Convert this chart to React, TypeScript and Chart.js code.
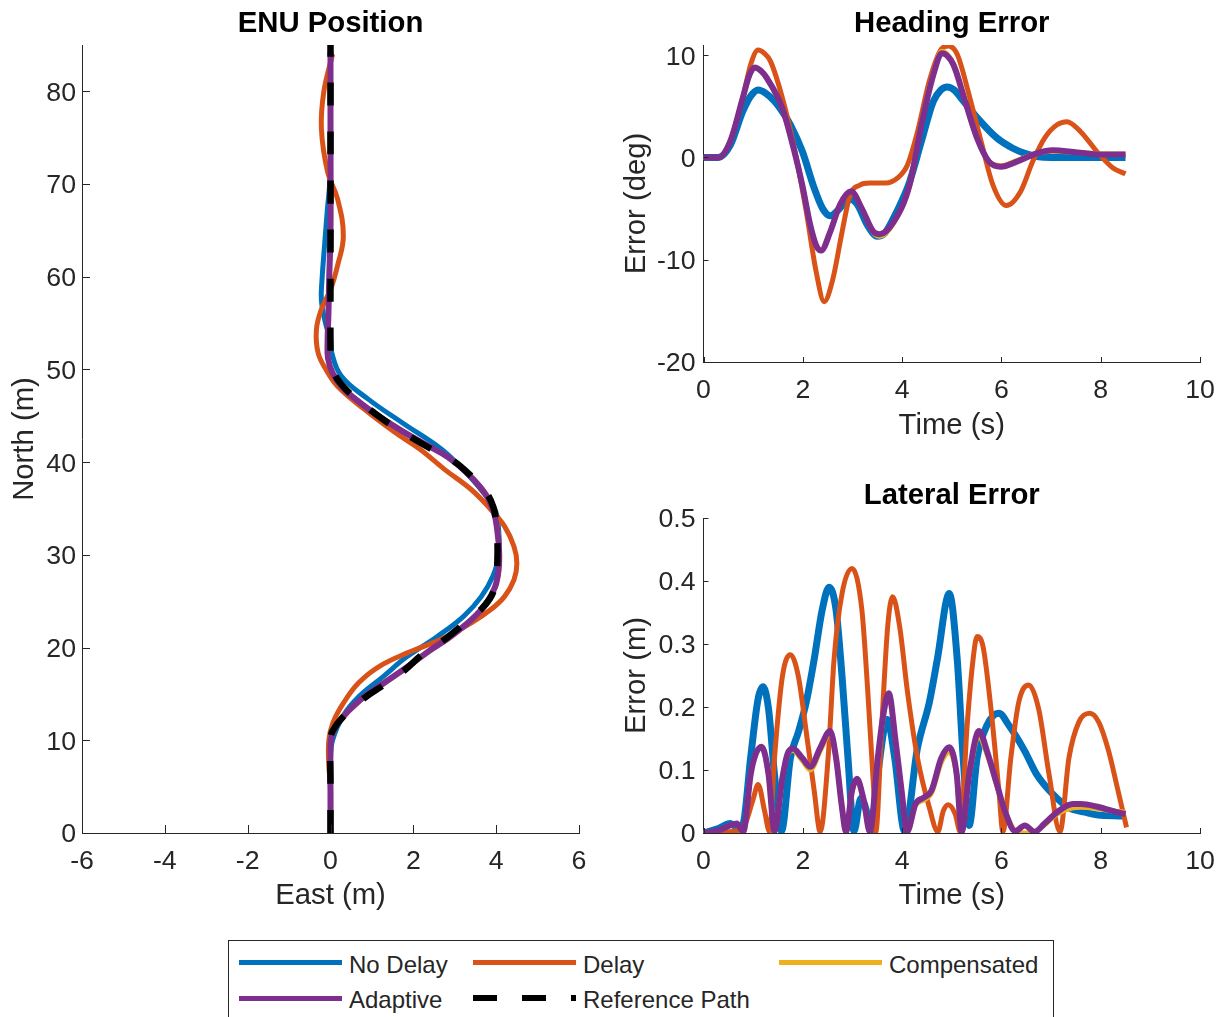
import React, { useEffect, useRef } from 'react';
import { Chart, registerables } from 'chart.js';

Chart.register(...registerables);

const FONT = '"Liberation Sans", Arial, Helvetica, sans-serif';
const AXIS_COLOR = '#262626';
const PAGE_W = 1222;
const PAGE_H = 1017;
const TICK_SIZE = 26.7;
const LABEL_SIZE = 29.3;
const TITLE_SIZE = 29.3;

const C_NODELAY = '#0072BD';
const C_DELAY = '#D95319';
const C_COMP = '#EDB120';
const C_ADAPT = '#7E2F8E';
const C_REF = '#000000';

type Pt = [number, number];

// ---------- ENU Position (East, North) ----------
const enuReference: Pt[] = [
  [0, 0], [0, 5], [0, 10], [0.05, 11], [0.3, 12.5], [0.8, 14.5], [1.3, 16], [1.8, 17.6], [2.2, 19.2],
  [2.7, 20.7], [3.2, 22.5], [3.65, 24.2], [3.9, 25.7], [4.0, 27.5], [4.03, 29.5], [4.03, 31.5],
  [4.0, 33.5], [3.93, 35.2], [3.75, 36.8], [3.4, 38.5], [2.95, 40.2], [2.4, 41.5], [1.9, 42.8],
  [1.4, 44.2], [1.0, 45.5], [0.6, 46.9], [0.3, 48.2], [0.1, 49.5], [0.02, 51], [0, 52.5],
  [0, 60], [0, 70], [0, 85],
];
const enuNoDelay: Pt[] = [
  [0, 0], [0, 4], [0, 8], [0.05, 10], [0.3, 12.6], [0.68, 14.7], [1.28, 16.9], [1.84, 19], [2.58, 21.2],
  [3.22, 23.4], [3.64, 25.5], [3.92, 27.7], [4.06, 29.9], [4.06, 32.7], [3.97, 34.9], [3.64, 37],
  [3.2, 39.2], [2.68, 41.4], [1.75, 44.2], [0.91, 46.8], [0.26, 49.3], [0.03, 51.8], [0, 53.2],
  [-0.12, 55], [-0.22, 57.5], [-0.2, 60], [-0.15, 63], [-0.08, 67], [-0.02, 70], [0, 72], [0, 78], [0, 84],
];
const enuDelay: Pt[] = [
  [0, 0], [0, 5], [-0.04, 7.2], [-0.04, 10], [0.06, 11.9], [0.31, 14], [0.68, 16.2], [1.19, 18],
  [1.84, 19.4], [2.67, 20.9], [3.41, 22.7], [3.87, 24.1], [4.2, 25.5], [4.43, 27.3], [4.5, 29.1],
  [4.43, 30.9], [4.2, 33.1], [3.87, 34.9], [3.41, 37], [2.76, 39.2], [2.16, 41.4], [1.56, 43.2],
  [0.82, 45.7], [0.17, 48.2], [-0.11, 50], [-0.3, 51.8], [-0.34, 54.3], [-0.22, 56.5], [0, 58.6],
  [0.17, 61.2], [0.31, 64.4], [0.17, 68.4], [-0.07, 71.3], [-0.22, 76], [-0.16, 80], [0.05, 84],
];
const enuCompensated: Pt[] = [
  [0, 0], [0, 4.5], [0, 9], [0.03, 10.5], [0.21, 12], [0.72, 14.3], [1.32, 16.2], [1.87, 17.9],
  [2.42, 19.7], [2.92, 21.2], [3.41, 23], [3.76, 24.7], [3.98, 26.5], [4.07, 28.5], [4.08, 30.5],
  [4.04, 32.5], [3.96, 34.5], [3.76, 36.5], [3.36, 38.6], [2.86, 40.5], [2.31, 41.9], [1.76, 43.3],
  [1.26, 44.7], [0.76, 46.3], [0.31, 48], [0.05, 49.6], [-0.06, 51.2], [-0.07, 53], [-0.05, 56],
  [-0.03, 60], [0, 65], [0, 75], [0, 84.2],
];
const enuAdaptive: Pt[] = [
  [0, 0], [0, 4.5], [0, 9], [0.03, 10.5], [0.2, 12], [0.7, 14.3], [1.3, 16.2], [1.85, 17.9],
  [2.4, 19.7], [2.9, 21.2], [3.4, 23], [3.75, 24.7], [3.97, 26.5], [4.06, 28.5], [4.07, 30.5],
  [4.03, 32.5], [3.95, 34.5], [3.75, 36.5], [3.35, 38.6], [2.85, 40.5], [2.3, 41.9], [1.75, 43.3],
  [1.25, 44.7], [0.75, 46.3], [0.3, 48], [0.05, 49.6], [-0.06, 51.2], [-0.07, 53], [-0.05, 56],
  [-0.03, 60], [0, 65], [0, 75], [0, 84.2],
];

// ---------- Heading Error (time s, deg) ----------
const headingNoDelay: Pt[] = [
  [0, 0], [0.3, 0], [0.54, 1.2], [0.79, 4.5], [0.95, 6.0], [1.1, 6.6], [1.25, 6.3], [1.43, 5.5],
  [1.6, 4.4], [1.75, 3.2], [1.99, 0.6], [2.23, -3.0], [2.4, -5.0], [2.55, -5.7], [2.7, -5.2],
  [2.85, -4.4], [2.97, -4.1], [3.1, -4.6], [3.3, -6.6], [3.5, -7.7], [3.65, -7.4], [3.83, -5.9],
  [4.0, -4.2], [4.15, -2.4], [4.39, 1.6], [4.63, 5.5], [4.78, 6.6], [4.91, 6.9], [5.05, 6.6],
  [5.19, 5.8], [5.51, 3.9], [5.91, 1.9], [6.23, 0.9], [6.47, 0.4], [6.71, 0.1], [7.0, 0], [8.5, 0],
];
const headingDelay: Pt[] = [
  [0, 0], [0.3, 0], [0.54, 1.6], [0.79, 5.8], [0.95, 9.1], [1.1, 10.5], [1.22, 10.2], [1.35, 9.4],
  [1.59, 5.8], [1.83, 0.9], [2.07, -5.3], [2.27, -11.2], [2.43, -14.1], [2.6, -12.0], [2.79, -7.3],
  [2.95, -3.7], [3.15, -2.7], [3.35, -2.5], [3.67, -2.5], [3.91, -2.0], [4.11, -0.7], [4.31, 2.5],
  [4.55, 7.5], [4.79, 10.6], [4.93, 10.9], [5.11, 10.1], [5.35, 6.1], [5.59, 1.6], [5.83, -2.7],
  [6.1, -4.7], [6.39, -3.3], [6.63, -0.4], [6.87, 1.9], [7.12, 3.2], [7.32, 3.5], [7.6, 2.5],
  [7.92, 0.6], [8.24, -1.0], [8.5, -1.6],
];
const headingCompensated: Pt[] = [
  [0, 0], [0.3, 0], [0.54, 1.6], [0.79, 5.8], [0.92, 8.0], [1.03, 8.8], [1.15, 8.5], [1.27, 7.8],
  [1.59, 4.8], [1.83, 0.6], [1.99, -2.7], [2.15, -6.6], [2.27, -8.6], [2.37, -9.1], [2.55, -7.3],
  [2.75, -4.6], [2.97, -3.3], [3.19, -5.0], [3.43, -7.4], [3.55, -7.7], [3.83, -6.4], [4.15, -2.7],
  [4.39, 3.3], [4.63, 8.3], [4.8, 10.4], [5.03, 9.2], [5.27, 5.5], [5.51, 1.9], [5.75, -0.4],
  [5.99, -0.8], [6.31, -0.3], [6.71, 0.4], [7.03, 0.6], [7.52, 0.5], [8.0, 0.35], [8.5, 0.35],
];
const headingAdaptive: Pt[] = [
  [0, 0], [0.3, 0], [0.54, 1.6], [0.79, 5.8], [0.92, 8.0], [1.03, 8.8], [1.15, 8.5], [1.27, 7.8],
  [1.59, 4.8], [1.83, 0.6], [1.99, -2.7], [2.15, -6.6], [2.27, -8.6], [2.37, -9.1], [2.55, -7.3],
  [2.75, -4.6], [2.97, -3.3], [3.19, -5.0], [3.43, -7.3], [3.55, -7.5], [3.83, -6.3], [4.15, -2.7],
  [4.39, 3.2], [4.63, 8.1], [4.8, 10.2], [5.03, 9.1], [5.27, 5.5], [5.51, 1.9], [5.75, -0.4],
  [5.99, -0.9], [6.31, -0.4], [6.71, 0.4], [7.03, 0.7], [7.52, 0.5], [8.0, 0.3], [8.5, 0.3],
];

// ---------- Lateral Error (time s, m) ----------
const lateralNoDelay: Pt[] = [
  [0, 0], [0.3, 0.007], [0.54, 0.015], [0.7, 0.008], [0.8, 0.015], [0.95, 0.12], [1.1, 0.213],
  [1.2, 0.232], [1.31, 0.197], [1.43, 0.093], [1.57, 0.003], [1.75, 0.119], [1.91, 0.16],
  [2.07, 0.208], [2.23, 0.276], [2.39, 0.354], [2.53, 0.39], [2.67, 0.354], [2.79, 0.249],
  [2.91, 0.119], [3.03, 0.003], [3.17, 0.055], [3.3, 0.03], [3.37, 0.003], [3.51, 0.093],
  [3.7, 0.18], [3.85, 0.12], [4.05, 0.003], [4.31, 0.135], [4.55, 0.208], [4.71, 0.276],
  [4.95, 0.38], [5.11, 0.276], [5.23, 0.119], [5.35, 0.012], [5.51, 0.119], [5.71, 0.171],
  [5.95, 0.19], [6.15, 0.171], [6.47, 0.13], [6.71, 0.093], [7.03, 0.062], [7.36, 0.04],
  [7.68, 0.033], [8.0, 0.028], [8.5, 0.027],
];
const lateralDelay: Pt[] = [
  [0, 0], [0.5, 0.002], [0.79, 0.007], [0.99, 0.051], [1.1, 0.077], [1.23, 0.035], [1.33, 0.002],
  [1.43, 0.119], [1.59, 0.249], [1.75, 0.283], [1.91, 0.249], [2.07, 0.16], [2.23, 0.067],
  [2.35, 0.002], [2.51, 0.119], [2.63, 0.276], [2.79, 0.38], [2.99, 0.42], [3.19, 0.354],
  [3.31, 0.223], [3.43, 0.067], [3.47, 0.002], [3.59, 0.17], [3.71, 0.328], [3.81, 0.375],
  [3.95, 0.328], [4.11, 0.223], [4.31, 0.119], [4.55, 0.04], [4.72, 0.002], [4.83, 0.035],
  [4.93, 0.045], [5.07, 0.03], [5.17, 0.002], [5.31, 0.171], [5.43, 0.276], [5.51, 0.312],
  [5.63, 0.296], [5.79, 0.197], [5.95, 0.067], [6.03, 0.002], [6.19, 0.119], [6.35, 0.208],
  [6.55, 0.235], [6.75, 0.197], [6.96, 0.093], [7.18, 0.002], [7.36, 0.119], [7.56, 0.176],
  [7.78, 0.19], [7.96, 0.176], [8.16, 0.13], [8.32, 0.077], [8.52, 0.009],
];
const lateralCompensated: Pt[] = [
  [0, 0], [0.3, 0.004], [0.54, 0.012], [0.67, 0.015], [0.8, 0.002], [0.95, 0.093], [1.05, 0.125],
  [1.17, 0.135], [1.31, 0.093], [1.43, 0.003], [1.59, 0.088], [1.69, 0.123], [1.8, 0.131],
  [1.99, 0.115], [2.15, 0.1], [2.35, 0.13], [2.55, 0.158], [2.67, 0.119], [2.79, 0.04],
  [2.87, 0.002], [2.99, 0.065], [3.09, 0.082], [3.23, 0.05], [3.35, 0.002], [3.51, 0.115],
  [3.63, 0.188], [3.73, 0.218], [3.87, 0.143], [3.99, 0.066], [4.1, 0.002], [4.27, 0.044],
  [4.43, 0.052], [4.59, 0.063], [4.79, 0.112], [4.95, 0.128], [5.1, 0.09], [5.2, 0.002],
  [5.35, 0.09], [5.55, 0.152], [5.71, 0.125], [5.91, 0.075], [6.07, 0.035], [6.28, 0.003],
  [6.45, 0.0], [6.67, 0.002], [6.87, 0.013], [7.12, 0.03], [7.44, 0.04], [7.6, 0.041],
  [7.92, 0.039], [8.24, 0.035], [8.5, 0.033],
];
const lateralAdaptive: Pt[] = [
  [0, 0], [0.3, 0.004], [0.54, 0.012], [0.67, 0.015], [0.8, 0.002], [0.95, 0.093], [1.05, 0.125],
  [1.17, 0.137], [1.31, 0.093], [1.43, 0.003], [1.59, 0.088], [1.69, 0.125], [1.8, 0.134],
  [1.99, 0.119], [2.15, 0.105], [2.35, 0.135], [2.55, 0.162], [2.67, 0.119], [2.79, 0.04],
  [2.87, 0.002], [2.99, 0.067], [3.09, 0.086], [3.23, 0.051], [3.35, 0.002], [3.51, 0.119],
  [3.63, 0.192], [3.73, 0.222], [3.87, 0.145], [3.99, 0.067], [4.1, 0.002], [4.27, 0.046],
  [4.43, 0.056], [4.59, 0.067], [4.79, 0.119], [4.95, 0.136], [5.1, 0.093], [5.2, 0.002],
  [5.35, 0.093], [5.55, 0.162], [5.71, 0.13], [5.91, 0.077], [6.07, 0.035], [6.28, 0.003],
  [6.47, 0.012], [6.67, 0.002], [6.87, 0.015], [7.12, 0.033], [7.44, 0.046], [7.6, 0.046],
  [7.92, 0.042], [8.24, 0.035], [8.5, 0.03],
];

// ---------- Axes ticks / labels ----------
const enuXTicks = { min: -6, max: 6, step: 2 };
const enuYTicks = { min: 0, max: 85, step: 10 };
const headingXTicks = { min: 0, max: 10, step: 2 };
const headingYTicks = { min: -20, max: 11, step: 10 };
const lateralXTicks = { min: 0, max: 10, step: 2 };
const lateralYTicks = { min: 0, max: 0.5, step: 0.1 };

const seriesNames = ['No Delay', 'Delay', 'Compensated', 'Adaptive', 'Reference Path'];

const toXY = (arr: Pt[]) => arr.map(([x, y]) => ({ x, y }));

const inwardTicks = {
  id: 'inwardTicks',
  afterDatasetsDraw(chart: any, _args: any, opts: any) {
    const { ctx, chartArea } = chart;
    const len = opts.length || 5;
    const xs = chart.scales.x;
    const ys = chart.scales.y;
    ctx.save();
    ctx.strokeStyle = AXIS_COLOR;
    ctx.lineWidth = 1;
    xs.ticks.forEach((t: any) => {
      const px = Math.round(xs.getPixelForValue(t.value)) + 0.5;
      ctx.beginPath();
      ctx.moveTo(px, chartArea.bottom);
      ctx.lineTo(px, chartArea.bottom - len);
      ctx.stroke();
    });
    ys.ticks.forEach((t: any) => {
      const py = Math.round(ys.getPixelForValue(t.value)) + 0.5;
      ctx.beginPath();
      ctx.moveTo(chartArea.left, py);
      ctx.lineTo(chartArea.left + len, py);
      ctx.stroke();
    });
    ctx.restore();
  },
};

function ds(label: string, pts: Pt[], color: string, width: number, order: number, mono: boolean, dash?: number[]) {
  return {
    label,
    data: toXY(pts),
    borderColor: color,
    backgroundColor: color,
    borderWidth: width,
    borderDash: dash || [],
    showLine: true,
    pointRadius: 0,
    fill: false,
    order,
    tension: mono ? 0 : 0.4,
    cubicInterpolationMode: mono ? 'monotone' : 'default',
    borderCapStyle: 'butt',
    borderJoinStyle: 'round',
  };
}

interface Panel {
  title: string;
  xTitle: string;
  yTitle: string;
  xt: { min: number; max: number; step: number };
  yt: { min: number; max: number; step: number };
  area: { left: number; top: number; right: number; bottom: number };
  titleCenter: number;
  yTitleCenter: number;
  xTitleCenter: number;
  tickLen: number;
  yTickPad: number;
  datasets: any[];
}

function buildConfig(p: Panel): any {
  const titleLH = TITLE_SIZE * 1.2;
  const labelLH = LABEL_SIZE * 1.2;
  const yW = p.area.left - p.yTitleCenter + labelLH / 2;
  const xH = p.xTitleCenter - p.area.bottom + labelLH / 2;
  const tickFont = { family: FONT, size: TICK_SIZE };
  const labelFont = { family: FONT, size: LABEL_SIZE };
  return {
    type: 'scatter',
    data: { datasets: p.datasets },
    options: {
      responsive: false,
      maintainAspectRatio: false,
      animation: false,
      devicePixelRatio: 1,
      events: [],
      layout: {
        padding: {
          left: p.area.left - yW,
          right: PAGE_W - p.area.right,
          top: 0,
          bottom: PAGE_H - p.area.bottom - xH,
        },
      },
      plugins: {
        legend: { display: false },
        tooltip: { enabled: false },
        title: {
          display: true,
          text: p.title,
          fullSize: false,
          color: '#000000',
          font: { family: FONT, size: TITLE_SIZE, weight: 'bold' },
          padding: { top: p.titleCenter - titleLH / 2, bottom: p.area.top - p.titleCenter - titleLH / 2 },
        },
        inwardTicks: { length: p.tickLen },
      },
      scales: {
        x: {
          type: 'linear',
          position: 'bottom',
          min: p.xt.min,
          max: p.xt.max,
          ticks: {
            stepSize: p.xt.step,
            includeBounds: false,
            autoSkip: false,
            maxRotation: 0,
            color: AXIS_COLOR,
            font: tickFont,
            padding: 13,
          },
          grid: { display: false, drawTicks: false },
          border: { display: true, color: AXIS_COLOR, width: 1 },
          title: { display: true, text: p.xTitle, color: AXIS_COLOR, font: labelFont, padding: 0 },
          afterFit: (s: any) => {
            s.height = xH;
            s.paddingLeft = 0;
            s.paddingRight = 0;
          },
        },
        y: {
          type: 'linear',
          position: 'left',
          min: p.yt.min,
          max: p.yt.max,
          ticks: {
            stepSize: p.yt.step,
            includeBounds: false,
            autoSkip: false,
            color: AXIS_COLOR,
            font: tickFont,
            padding: p.yTickPad,
            labelOffset: 2,
          },
          grid: { display: false, drawTicks: false },
          border: { display: true, color: AXIS_COLOR, width: 1 },
          title: { display: true, text: p.yTitle, color: AXIS_COLOR, font: labelFont, padding: 0 },
          afterFit: (s: any) => {
            s.width = yW;
            s.paddingTop = 0;
            s.paddingBottom = 0;
          },
        },
      },
    },
    plugins: [inwardTicks],
  };
}

const REF_DASH = [23, 26];

const panels: Panel[] = [
  {
    title: 'ENU Position',
    xTitle: 'East (m)',
    yTitle: 'North (m)',
    xt: enuXTicks,
    yt: enuYTicks,
    area: { left: 82, top: 45, right: 579, bottom: 833 },
    titleCenter: 24,
    yTitleCenter: 25,
    xTitleCenter: 895.5,
    tickLen: 8,
    yTickPad: 6,
    datasets: [
      ds(seriesNames[0], enuNoDelay, C_NODELAY, 5, 5, false),
      ds(seriesNames[1], enuDelay, C_DELAY, 5, 4, false),
      ds(seriesNames[2], enuCompensated, C_COMP, 5, 3, false),
      ds(seriesNames[3], enuAdaptive, C_ADAPT, 6, 2, false),
      ds(seriesNames[4], enuReference, C_REF, 6.5, 1, false, REF_DASH),
    ],
  },
  {
    title: 'Heading Error',
    xTitle: 'Time (s)',
    yTitle: 'Error (deg)',
    xt: headingXTicks,
    yt: headingYTicks,
    area: { left: 703.5, top: 45, right: 1200, bottom: 362 },
    titleCenter: 24,
    yTitleCenter: 637,
    xTitleCenter: 425.5,
    tickLen: 5,
    yTickPad: 8,
    datasets: [
      ds(seriesNames[0], headingNoDelay, C_NODELAY, 7, 5, true),
      ds(seriesNames[1], headingDelay, C_DELAY, 5, 4, true),
      ds(seriesNames[2], headingCompensated, C_COMP, 5, 3, true),
      ds(seriesNames[3], headingAdaptive, C_ADAPT, 6, 2, true),
    ],
  },
  {
    title: 'Lateral Error',
    xTitle: 'Time (s)',
    yTitle: 'Error (m)',
    xt: lateralXTicks,
    yt: lateralYTicks,
    area: { left: 703.5, top: 518, right: 1200, bottom: 833 },
    titleCenter: 496,
    yTitleCenter: 637,
    xTitleCenter: 895.5,
    tickLen: 5,
    yTickPad: 8,
    datasets: [
      ds(seriesNames[0], lateralNoDelay, C_NODELAY, 7, 5, true),
      ds(seriesNames[1], lateralDelay, C_DELAY, 5, 4, true),
      ds(seriesNames[2], lateralCompensated, C_COMP, 5, 3, true),
      ds(seriesNames[3], lateralAdaptive, C_ADAPT, 6, 2, true),
    ],
  },
];

const legendItems = [
  { name: seriesNames[0], color: C_NODELAY, col: 0, row: 0, dashed: false },
  { name: seriesNames[1], color: C_DELAY, col: 1, row: 0, dashed: false },
  { name: seriesNames[2], color: C_COMP, col: 2, row: 0, dashed: false },
  { name: seriesNames[3], color: C_ADAPT, col: 0, row: 1, dashed: false },
  { name: seriesNames[4], color: C_REF, col: 1, row: 1, dashed: true },
];
const legendColX = [239, 473, 779];
const legendRowY = [962.5, 998];

function ChartCanvas({ panel }: { panel: Panel }) {
  const ref = useRef<HTMLCanvasElement | null>(null);
  useEffect(() => {
    if (!ref.current) return;
    const chart = new Chart(ref.current, buildConfig(panel));
    return () => chart.destroy();
  }, [panel]);
  return (
    <canvas
      ref={ref}
      width={PAGE_W}
      height={PAGE_H}
      style={{ position: 'absolute', left: 0, top: 0, width: PAGE_W, height: PAGE_H }}
    />
  );
}

export default function App() {
  return (
    <div
      style={{
        position: 'absolute',
        left: 0,
        top: 0,
        width: PAGE_W,
        height: PAGE_H,
        overflow: 'hidden',
        background: '#ffffff',
        fontFamily: FONT,
      }}
    >
      {panels.map((p) => (
        <ChartCanvas key={p.title} panel={p} />
      ))}
      <div
        style={{
          position: 'absolute',
          left: 228,
          top: 940,
          width: 826,
          height: 110,
          border: `1px solid ${AXIS_COLOR}`,
          boxSizing: 'border-box',
          background: '#ffffff',
        }}
      />
      {legendItems.map((it) => {
        const x = legendColX[it.col];
        const y = legendRowY[it.row];
        const lineStyle: React.CSSProperties = it.dashed
          ? {
              position: 'absolute',
              left: x,
              top: y - 3,
              width: 103,
              height: 6,
              background: `repeating-linear-gradient(to right, ${it.color} 0px, ${it.color} 24px, transparent 24px, transparent 49px)`,
            }
          : {
              position: 'absolute',
              left: x,
              top: y - 2.5,
              width: 103,
              height: 5,
              background: it.color,
            };
        return (
          <React.Fragment key={it.name}>
            <div style={lineStyle} />
            <div
              style={{
                position: 'absolute',
                left: x + 110,
                top: y + 2,
                transform: 'translateY(-50%)',
                fontSize: 24,
                lineHeight: 1,
                color: AXIS_COLOR,
                whiteSpace: 'nowrap',
                fontFamily: FONT,
              }}
            >
              {it.name}
            </div>
          </React.Fragment>
        );
      })}
    </div>
  );
}
